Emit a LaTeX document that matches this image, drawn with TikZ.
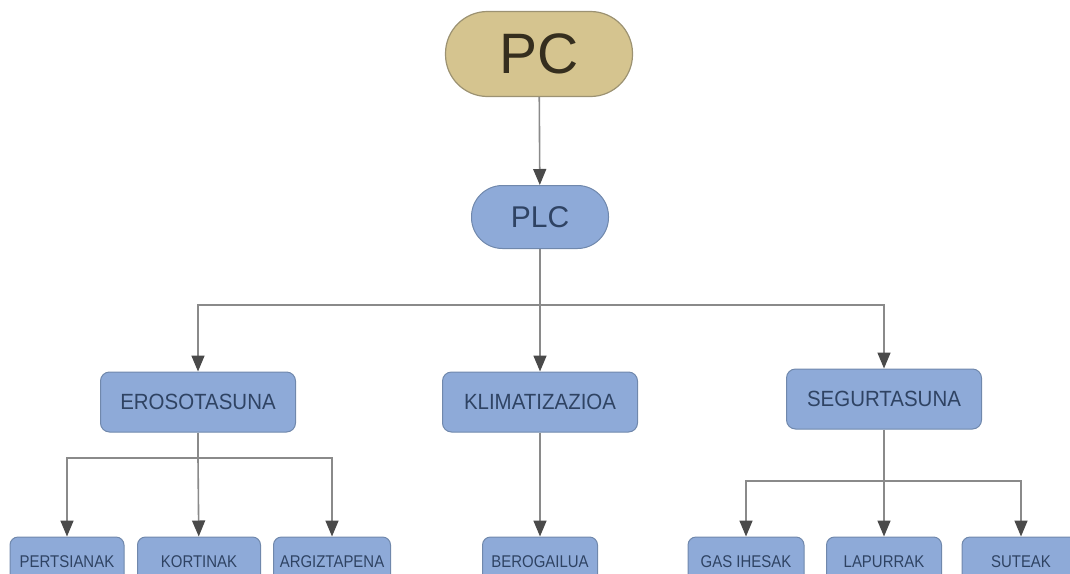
\documentclass[tikz,border=0pt]{standalone}
\usepackage{fontspec}
\setmainfont{Liberation Sans}
\newfontfamily\midfont[FakeStretch=0.93]{Liberation Sans}
\newfontfamily\leaffont[FakeStretch=0.88]{Liberation Sans}
\usetikzlibrary{arrows.meta}
\definecolor{tanfill}{HTML}{D5C48F}
\definecolor{tanedge}{HTML}{9C9272}
\definecolor{tantext}{HTML}{352E1E}
\definecolor{bluefill}{HTML}{8EAAD8}
\definecolor{blueedge}{HTML}{7088AC}
\definecolor{bluetext}{HTML}{2F4363}
\definecolor{linegray}{HTML}{8A8A8A}
\definecolor{tipgray}{HTML}{4A4A4A}
\tikzset{
  rootbox/.style={draw=tanedge, line width=1.2pt, fill=tanfill, text=tantext,
    minimum width=187pt, minimum height=85pt, rounded corners=42pt,
    inner sep=0pt, font=\fontsize{57}{60}\selectfont},
  plcbox/.style={draw=blueedge, line width=1pt, fill=bluefill, text=bluetext,
    minimum width=137pt, minimum height=63pt, rounded corners=31pt,
    inner sep=0pt, font=\fontsize{30}{34}\selectfont},
  midbox/.style={draw=blueedge, line width=1pt, fill=bluefill, text=bluetext,
    minimum width=195pt, minimum height=60pt, rounded corners=9pt,
    inner sep=0pt, font=\midfont\fontsize{22}{26}\selectfont},
  leafbox/.style={draw=blueedge, line width=1pt, fill=bluefill, text=bluetext,
    minimum width=116pt, minimum height=50pt, rounded corners=8pt,
    inner sep=0pt, font=\leaffont\fontsize{17}{20}\selectfont},
  link/.style={draw=linegray, line width=1.6pt},
  arrowlink/.style={link, -{Triangle[length=16pt,width=13pt,fill=tipgray,color=tipgray]}},
}
\begin{document}
\begin{tikzpicture}[x=1pt, y=-1pt]
  \useasboundingbox (0,0) rectangle (1070,573);
  \clip (0,0) rectangle (1070,573);

  % top of the hierarchy
  \node[rootbox] (pc)  at (539,54)  {PC};
  \node[plcbox]  (plc) at (540,217) {PLC};

  % subsystems
  \node[midbox] (eros)  at (198,402) {EROSOTASUNA};
  \node[midbox] (klim)  at (540,402) {KLIMATIZAZIOA};
  \node[midbox] (segur) at (884,399) {SEGURTASUNA};

  % devices
  \node[leafbox, minimum width=114pt] (pert)  at (67,562)   {PERTSIANAK};
  \node[leafbox, minimum width=123pt] (kort)  at (199,562)  {KORTINAK};
  \node[leafbox, minimum width=117pt] (argi)  at (332,562)  {ARGIZTAPENA};
  \node[leafbox, minimum width=115pt] (bero)  at (540,562)  {BEROGAILUA};
  \node[leafbox, minimum width=116pt] (gas)   at (746,562)  {GAS IHESAK};
  \node[leafbox, minimum width=115pt] (lapur) at (884,562)  {LAPURRAK};
  \node[leafbox, minimum width=118pt] (sute)  at (1021,562) {SUTEAK};

  % bus junctions
  \coordinate (busplc)   at (540,305);
  \coordinate (buseros)  at (198,458);
  \coordinate (bussegur) at (884,481);

  % connectors
  \draw[arrowlink] (pc) -- (plc);

  \draw[link] (plc) -- (busplc);
  \draw[arrowlink] (busplc) -| (eros.north);
  \draw[arrowlink] (busplc) -- (klim);
  \draw[arrowlink] (busplc) -| (segur.north);

  \draw[link] (eros) -- (buseros);
  \draw[arrowlink] (buseros) -| (pert.north);
  \draw[arrowlink] (buseros) -- (kort);
  \draw[arrowlink] (buseros) -| (argi.north);

  \draw[arrowlink] (klim) -- (bero);

  \draw[link] (segur) -- (bussegur);
  \draw[arrowlink] (bussegur) -| (gas.north);
  \draw[arrowlink] (bussegur) -- (lapur);
  \draw[arrowlink] (bussegur) -| (sute.north);
\end{tikzpicture}
\end{document}
